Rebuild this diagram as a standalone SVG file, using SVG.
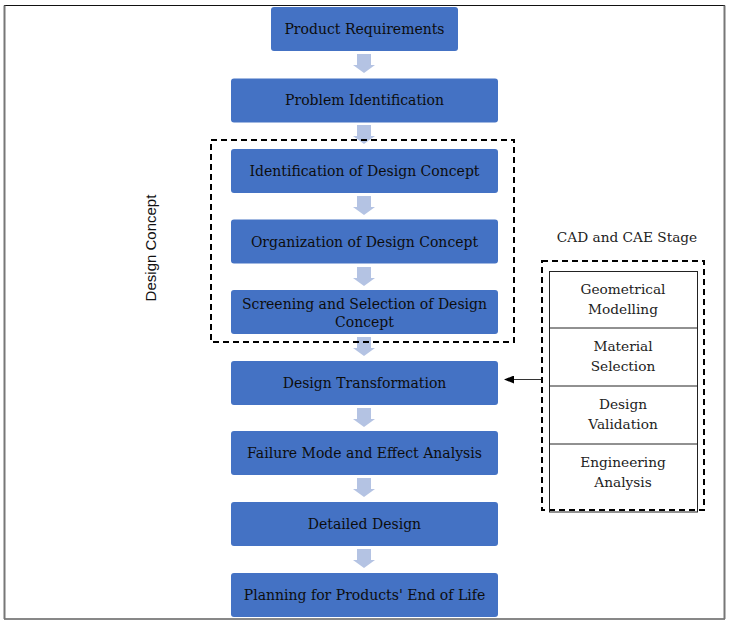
<svg xmlns="http://www.w3.org/2000/svg" width="732" height="625" viewBox="0 0 732 625">
<style>
.box{fill:#4472C4;}
.t{font-family:"DejaVu Serif","Liberation Serif",serif;font-size:14px;fill:#0d0d0d;text-anchor:middle;}
.c{font-family:"DejaVu Serif","Liberation Serif",serif;font-size:13.7px;fill:#222;text-anchor:middle;}
.ba{fill:#B4C3E3;}
.dash{fill:none;stroke:#000;stroke-width:2;stroke-dasharray:6,4;}
</style>
<defs>
<marker id="ah" markerWidth="10" markerHeight="8" refX="9" refY="4" orient="auto" markerUnits="userSpaceOnUse">
<path d="M0,0 L10,4 L0,8 Z" fill="#000"/>
</marker>
<path id="barrow" d="M-7,0 H7 V11 H11 L0,19 L-11,11 H-7 Z"/>
</defs>
<rect x="0" y="0" width="732" height="625" fill="#fff"/>
<rect x="4.5" y="5.5" width="720" height="613.5" fill="none" stroke="#111" stroke-width="1"/>
<line x1="4.5" y1="5.5" x2="4.5" y2="619" stroke="#777" stroke-width="2"/>
<line x1="724.5" y1="5.5" x2="724.5" y2="619" stroke="#777" stroke-width="2"/>

<g id="connectors">
<use href="#barrow" class="ba" x="364" y="54"/>
<use href="#barrow" class="ba" x="364" y="125"/>
<use href="#barrow" class="ba" x="364" y="196"/>
<use href="#barrow" class="ba" x="364" y="267"/>
<use href="#barrow" class="ba" x="364" y="337"/>
<use href="#barrow" class="ba" x="364" y="408"/>
<use href="#barrow" class="ba" x="364" y="478"/>
<use href="#barrow" class="ba" x="364" y="549"/>
<line x1="542" y1="379.5" x2="505" y2="379.5" stroke="#333" stroke-width="1" marker-end="url(#ah)"/>
</g>

<g id="design-concept-group">
<rect class="dash" x="211" y="140" width="303" height="202"/>
<text x="152" y="248" transform="rotate(-90 152 248)" font-family="Liberation Sans, Arial, sans-serif" font-size="15" fill="#111" text-anchor="middle" dominant-baseline="middle">Design Concept</text>
</g>

<g id="n1"><rect class="box" x="271" y="7" width="187" height="44" rx="3"/><text class="t" x="364.5" y="34">Product Requirements</text></g>
<g id="n2"><rect class="box" x="231" y="78.5" width="267" height="44" rx="3"/><text class="t" x="364.5" y="105">Problem Identification</text></g>
<g id="n3"><rect class="box" x="231" y="149" width="267" height="44" rx="3"/><text class="t" x="364.5" y="175.5">Identification of Design Concept</text></g>
<g id="n4"><rect class="box" x="231" y="219.5" width="267" height="44" rx="3"/><text class="t" x="364.5" y="246.5">Organization of Design Concept</text></g>
<g id="n5"><rect class="box" x="231" y="290" width="267" height="44" rx="3"/><text class="t" x="364.5" y="309">Screening and Selection of Design</text><text class="t" x="364.5" y="326.5">Concept</text></g>
<g id="n6"><rect class="box" x="231" y="361" width="267" height="44" rx="3"/><text class="t" x="364.5" y="387.5">Design Transformation</text></g>
<g id="n7"><rect class="box" x="231" y="431" width="267" height="44" rx="3"/><text class="t" x="364.5" y="458">Failure Mode and Effect Analysis</text></g>
<g id="n8"><rect class="box" x="231" y="502" width="267" height="44" rx="3"/><text class="t" x="364.5" y="528.5">Detailed Design</text></g>
<g id="n9"><rect class="box" x="231" y="573" width="267" height="44" rx="3"/><text class="t" x="364.5" y="599.5">Planning for Products' End of Life</text></g>

<g id="cad-cae-stage">
<text class="c" x="627" y="242">CAD and CAE Stage</text>
<rect class="dash" x="542" y="261" width="162" height="249"/>
<rect x="549.5" y="271.5" width="148" height="240.5" fill="none" stroke="#222" stroke-width="1"/>
<line x1="549.5" y1="328" x2="697.5" y2="328" stroke="#222" stroke-width="1"/>
<line x1="549.5" y1="386" x2="697.5" y2="386" stroke="#222" stroke-width="1"/>
<line x1="549.5" y1="444" x2="697.5" y2="444" stroke="#222" stroke-width="1"/>
</g>
<g id="c1"><text class="c" x="623" y="294">Geometrical</text><text class="c" x="623" y="314">Modelling</text></g>
<g id="c2"><text class="c" x="623" y="351">Material</text><text class="c" x="623" y="371">Selection</text></g>
<g id="c3"><text class="c" x="623" y="409">Design</text><text class="c" x="623" y="429">Validation</text></g>
<g id="c4"><text class="c" x="623" y="467">Engineering</text><text class="c" x="623" y="487">Analysis</text></g>
</svg>
